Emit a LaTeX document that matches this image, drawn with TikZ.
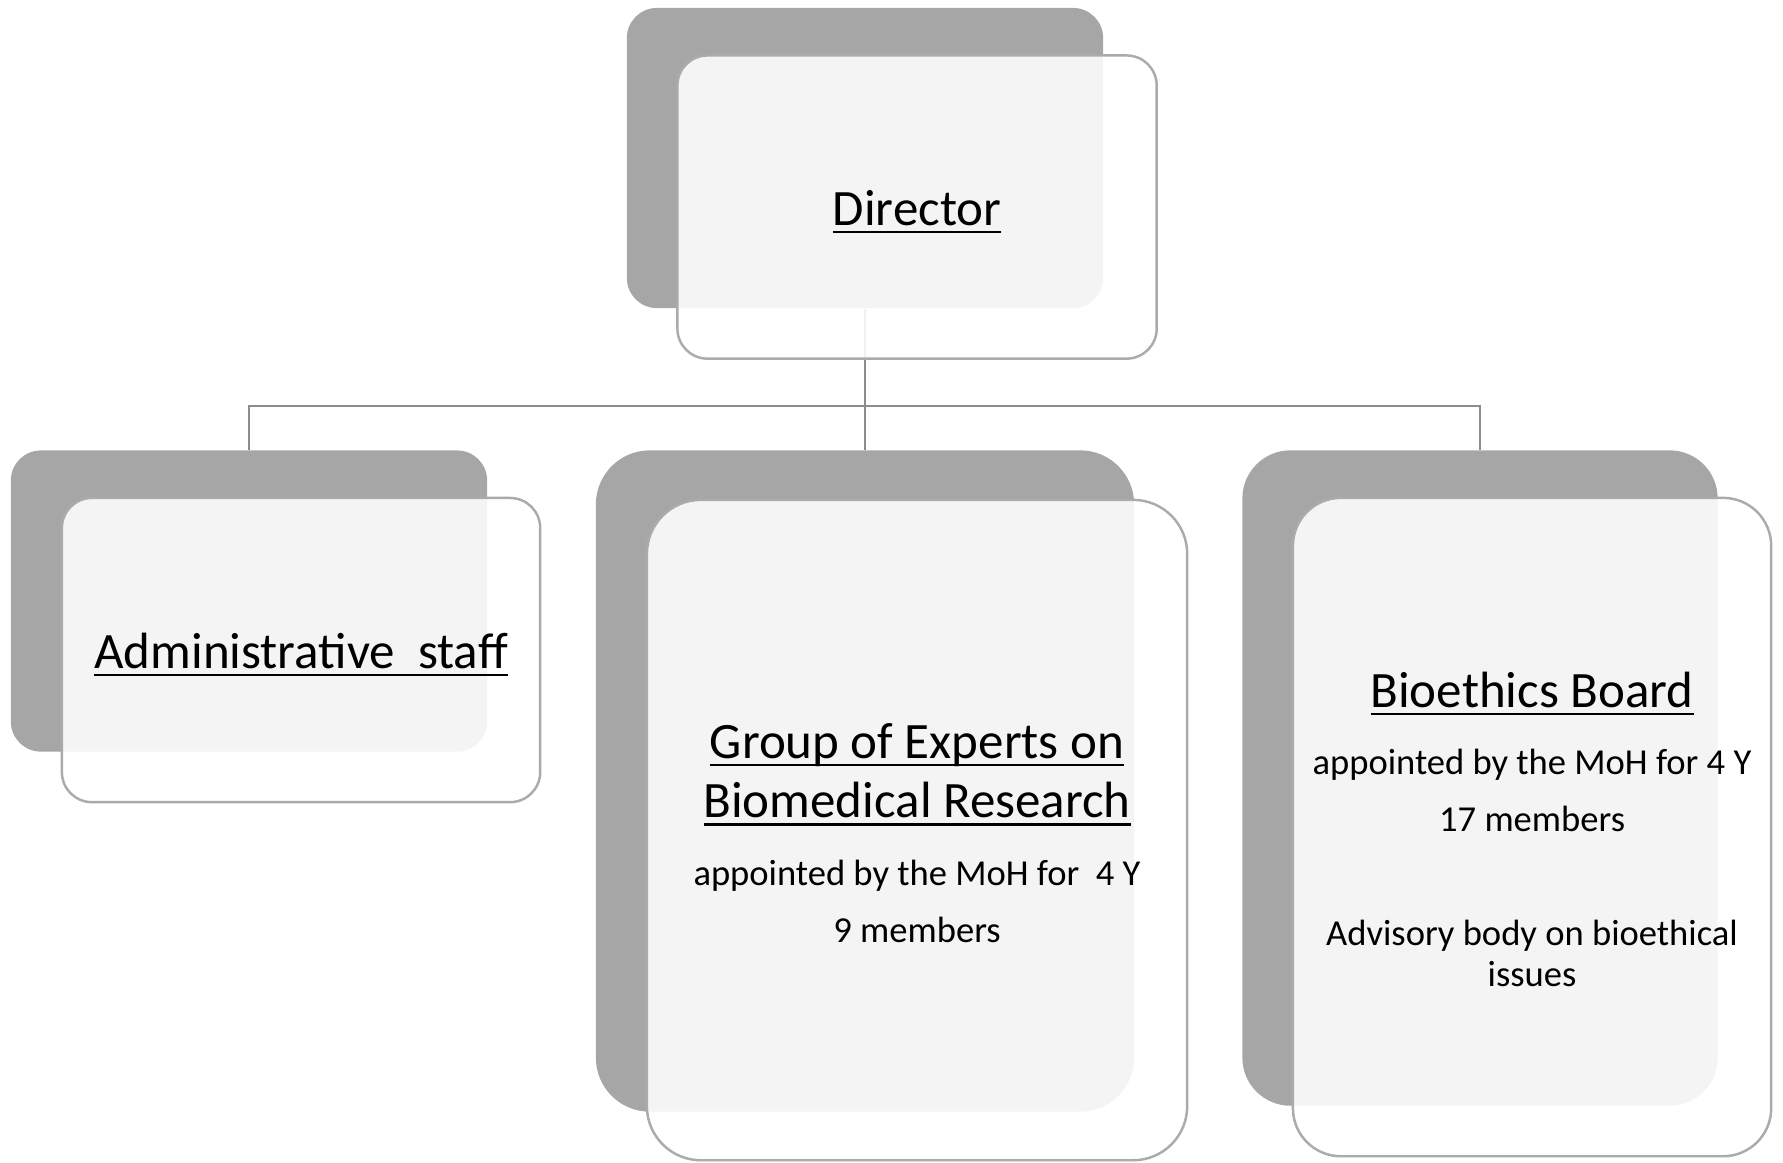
\documentclass[tikz,border=0pt]{standalone}
\usepackage{fontspec}
\setmainfont{Carlito}
\usetikzlibrary{positioning}

\definecolor{backgray}{HTML}{A6A6A6}
\definecolor{edgegray}{HTML}{ABABAB}
\definecolor{linkgray}{HTML}{8C8C8C}

% underlined heading line
\newcommand{\undl}[1]{\setbox0\hbox{#1}\rlap{\vrule height -1.6pt depth 2.3pt width \wd0}\box0}
\newcommand{\headline}[1]{{\fontsize{14.5}{16.5}\selectfont\undl{#1}}}

\begin{document}
\begin{tikzpicture}[
        x=0.01cm, y=-0.01cm,
        backbox/.style={
            rectangle, fill=backgray, inner sep=0pt
        },
        frontbox/.style={
            rectangle, draw=edgegray, line width=0.7pt, fill=white, fill opacity=0.88,
            inner sep=0pt, xshift=5.2mm, yshift=-4.9mm
        },
        cardtext/.style={
            inner sep=0pt, align=center, font=\fontsize{10.4}{16.2}\selectfont
        },
        link/.style={draw=linkgray, line width=0.7pt}
    ]
        \useasboundingbox (0,0) rectangle (1783,1162);

        % Back plates
        \node[backbox, rounded corners=3mm, minimum width=4.76cm, minimum height=3.00cm] (dirback) at (865,158) {};
        \node[backbox, rounded corners=3mm, minimum width=4.76cm, minimum height=3.01cm] (adminback) at (249,601) {};
        \node[backbox, rounded corners=5.4mm, minimum width=5.38cm, minimum height=6.61cm] (groupback) at (865,781) {};
        \node[backbox, rounded corners=4.8mm, minimum width=4.75cm, minimum height=6.55cm] (bioback) at (1480,778) {};

        % Tree lines
        \draw[link] (dirback.south) -- ++(0,97) coordinate (bus);
        \draw[link] (bus) -| (adminback.north);
        \draw[link] (bus) -- (groupback.north);
        \draw[link] (bus) -| (bioback.north);

        % Front cards
        \node[frontbox, rounded corners=3mm, minimum width=4.79cm, minimum height=3.03cm] (dirfront) at (dirback.center) {};
        \node[frontbox, rounded corners=3mm, minimum width=4.78cm, minimum height=3.04cm] (adminfront) at (adminback.center) {};
        \node[frontbox, rounded corners=5.4mm, minimum width=5.40cm, minimum height=6.60cm] (groupfront) at (groupback.center) {};
        \node[frontbox, rounded corners=4.8mm, minimum width=4.78cm, minimum height=6.58cm] (biofront) at (bioback.center) {};

        % Card texts
        \node[cardtext] (dirtext) at ([yshift=-1.3pt]dirfront.center) {\headline{Director}};
        \node[cardtext] (admintext) at ([yshift=-1.3pt]adminfront.center) {\headline{Administrative\ \ staff}};
        \node[cardtext] (grouptext) at ([yshift=-0.8pt]groupfront.center) {%
            \headline{Group of Experts on}\\[0.65pt]
            \headline{Biomedical Research}\\[3pt]
            appointed by the MoH for\ \ 4 Y\\
            9 members};
        \node[cardtext] (biotext) at ([yshift=-0.65pt]biofront.center) {%
            \headline{Bioethics Board}\\[3pt]
            appointed by the MoH for 4 Y\\
            17 members\\[16.2pt]
            Advisory body on bioethical\\[-4.5pt]
            issues};

    \end{tikzpicture}
\end{document}
